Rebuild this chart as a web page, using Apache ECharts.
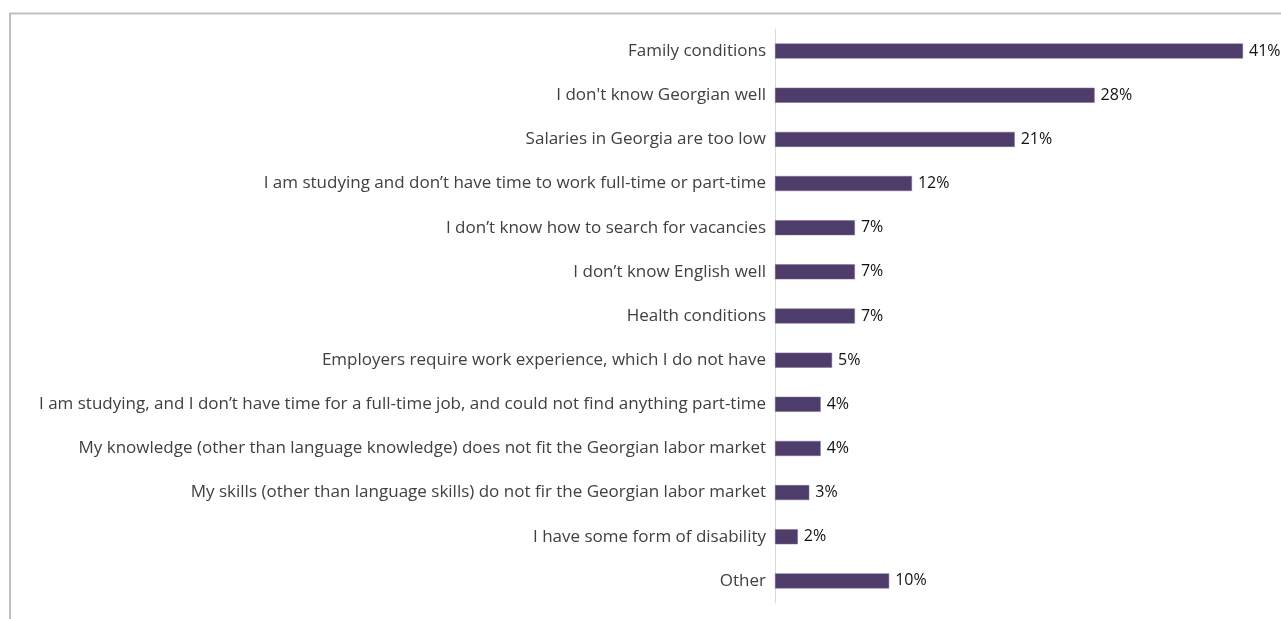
<!DOCTYPE html>
<html>
<head>
<meta charset="utf-8">
<script src="https://cdn.jsdelivr.net/npm/echarts@6/dist/echarts.min.js"></script>
<style>
  html, body { margin: 0; padding: 0; background: #ffffff; }
  #chart { width: 1281px; height: 619px; }
</style>
</head>
<body>
<div id="chart"></div>
<script>
// Reasons for not working, share of respondents (%)
const categories = [
  "Family conditions",
  "I don't know Georgian well",
  "Salaries in Georgia are too low",
  "I am studying and don\u2019t have time to work full-time or part-time",
  "I don\u2019t know how to search for vacancies",
  "I don\u2019t know English well",
  "Health conditions",
  "Employers require work experience, which I do not have",
  "I am studying, and I don\u2019t have time for a full-time job, and could not find anything part-time",
  "My knowledge (other than language knowledge) does not fit the Georgian labor market",
  "My skills (other than language skills) do not fir the Georgian labor market",
  "I have some form of disability",
  "Other"
];
const values = [41, 28, 21, 12, 7, 7, 7, 5, 4, 4, 3, 2, 10];

const chart = echarts.init(document.getElementById('chart'), null, { renderer: 'canvas' });

const FONT = '"Open Sans", "Noto Sans", sans-serif';

chart.setOption({
  animation: false,
  backgroundColor: '#ffffff',
  grid: { left: 775, right: 38, top: 29, bottom: 16, containLabel: false },
  xAxis: {
    type: 'value',
    min: 0,
    max: Math.max(...values),
    show: false
  },
  yAxis: {
    type: 'category',
    inverse: true,
    data: categories,
    axisLine: { show: true, lineStyle: { color: '#d9d9d9', width: 1 } },
    axisTick: { show: false },
    splitLine: { show: false },
    axisLabel: {
      margin: 9,
      color: '#404040',
      fontFamily: FONT,
      fontSize: 17
    }
  },
  series: [{
    type: 'bar',
    data: values,
    barWidth: 15,
    itemStyle: { color: '#4e3d6b', borderColor: '#7a6a93', borderWidth: 0.5 },
    label: {
      show: true,
      position: 'right',
      distance: 6,
      color: '#111111',
      fontFamily: FONT,
      fontSize: 16,
      formatter: p => p.value + '%'
    }
  }],
  graphic: [{
    type: 'polyline',
    shape: { points: [[10, 619], [10, 13.5], [1281, 13.5]] },
    style: { stroke: '#bfbfbf', lineWidth: 2, fill: null },
    silent: true
  }]
});
</script>
</body>
</html>
